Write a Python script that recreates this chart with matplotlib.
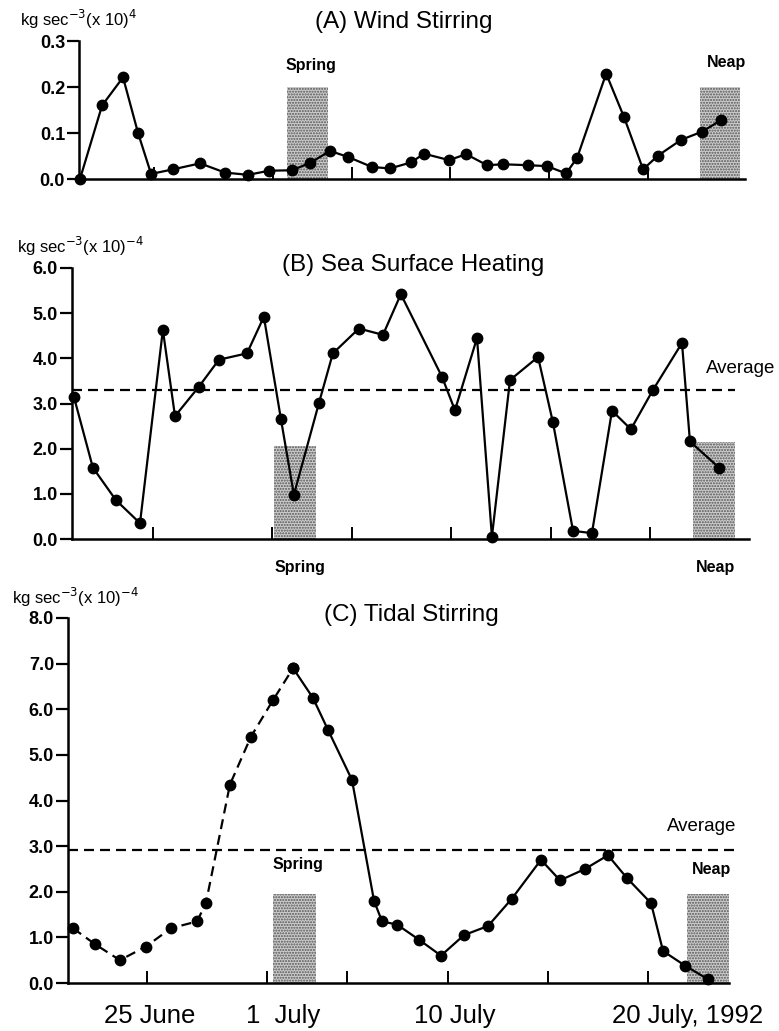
import numpy as np
import matplotlib
matplotlib.use('Agg')
import matplotlib.pyplot as plt
from matplotlib.patches import Rectangle

plt.rcParams['font.family'] = ['Liberation Sans', 'DejaVu Sans']
plt.rcParams['hatch.linewidth'] = 1.0

# days counted from 1 June 1992 (25 = 25 June, 31 = 1 July, 40 = 10 July ...)
wind_day = [21.25, 22.37, 23.43, 24.19, 24.85, 25.96, 27.33, 28.59, 29.76, 30.82,
            31.99, 32.90, 33.91, 34.82, 36.04, 36.95, 38.01, 38.67, 39.94, 40.80,
            41.86, 42.67, 43.94, 44.90, 45.86, 46.42, 47.89, 48.80, 49.76, 50.52,
            51.68, 52.75, 53.71]
wind = [0.0, 0.16, 0.221, 0.10, 0.011, 0.021, 0.034, 0.014, 0.009, 0.018,
        0.019, 0.035, 0.061, 0.048, 0.026, 0.023, 0.036, 0.055, 0.041, 0.054,
        0.030, 0.032, 0.030, 0.028, 0.012, 0.046, 0.229, 0.134, 0.021, 0.051,
        0.085, 0.103, 0.128]

heat_day = [21.03, 21.98, 23.14, 24.35, 25.50, 26.11, 27.31, 28.32, 29.73, 30.58,
            31.44, 32.09, 33.35, 34.05, 35.36, 36.57, 37.47, 39.54, 40.19, 41.30,
            42.05, 42.96, 44.37, 45.12, 46.13, 47.08, 48.09, 49.04, 50.15, 51.61,
            52.01, 53.47]
heat = [3.14, 1.58, 0.86, 0.35, 4.63, 2.72, 3.37, 3.97, 4.11, 4.92,
        2.65, 0.98, 3.01, 4.11, 4.66, 4.52, 5.42, 3.59, 2.85, 4.45,
        0.05, 3.52, 4.03, 2.58, 0.18, 0.13, 2.84, 2.43, 3.30, 4.34,
        2.16, 1.58]
heat_avg = 3.29

tide_day = [21.31, 22.41, 23.65, 24.95, 26.20, 27.50, 27.94, 29.14, 30.19, 31.29,
            32.29, 33.28, 34.03, 35.23, 36.33, 36.73, 37.48, 38.57, 39.67, 40.82,
            42.02, 43.21, 44.66, 45.61, 46.86, 48.00, 48.95, 50.15, 50.75, 51.85,
            53.00]
tide = [1.2, 0.85, 0.5, 0.8, 1.2, 1.35, 1.75, 4.35, 5.4, 6.2,
        6.9, 6.25, 5.55, 4.45, 1.8, 1.35, 1.28, 0.95, 0.6, 1.05,
        1.25, 1.85, 2.7, 2.25, 2.5, 2.8, 2.3, 1.75, 0.7, 0.38,
        0.08]
tide_avg = 2.92
n_dashed = 11  # tidal curve is dashed up to the spring peak

# spring / neap periods (start, end, box height) per panel
spring_a, neap_a = (31.73, 33.81, 0.2), (52.65, 54.67, 0.2)
spring_b, neap_b = (31.09, 33.20, 2.05), (52.16, 54.28, 2.14)
spring_c, neap_c = (31.29, 33.43, 1.95), (51.95, 54.04, 1.95)

date_ticks = [25, 31, 35, 40, 45, 50]
date_labels = ['25 June', '1  July', '10 July', '20 July, 1992']
date_label_x = [25.15, 31.79, 40.37, 51.99]

W, H = 779, 1031
fig = plt.figure(figsize=(W/100, H/100), dpi=100)


def make_axes(left, right, top, bottom):
    return fig.add_axes([left/W, 1 - bottom/H, (right-left)/W, (bottom-top)/H])


def style(ax, yticks, fmt):
    for s in ['top', 'right']:
        ax.spines[s].set_visible(False)
    for s in ['left', 'bottom']:
        ax.spines[s].set_linewidth(1.8)
    ax.set_yticks(yticks)
    ax.set_yticklabels([fmt % v for v in yticks], fontsize=13, fontweight='bold')
    ax.tick_params(axis='y', direction='out', length=9, width=1.6, pad=1)
    ax.set_xticks(date_ticks)
    ax.set_xticklabels([])
    ax.tick_params(axis='x', direction='in', length=9, width=1.4)


def box(ax, per):
    ax.add_patch(Rectangle((per[0], 0), per[1]-per[0], per[2], facecolor='#cccccc',
                           edgecolor='#555555', hatch='......', linewidth=0, zorder=1))


# (A) Wind Stirring
ax_a = make_axes(79, 745, 41, 179)
ax_a.set_xlim(21.20, 54.92)
ax_a.set_ylim(0, 0.3)
style(ax_a, [0.0, 0.1, 0.2, 0.3], '%.1f')
box(ax_a, spring_a)
box(ax_a, neap_a)
ax_a.plot(wind_day, wind, color='black', lw=1.6, marker='o', ms=7.5, clip_on=False, zorder=3)
ax_a.text(32.95, 0.246, 'Spring', ha='center', va='center', fontsize=11.5, fontweight='bold')
ax_a.text(54.0, 0.254, 'Neap', ha='center', va='center', fontsize=11.5, fontweight='bold')
fig.text(404/W, 1 - 22/H, '(A) Wind Stirring', ha='center', va='center', fontsize=17.5)
fig.text(20/W, 1 - 19/H, r'kg sec$^{-3}$(x 10)$^{4}$', ha='left', va='center', fontsize=12)

# (B) Sea Surface Heating
ax_b = make_axes(72, 749, 268, 539)
ax_b.set_xlim(20.93, 54.98)
ax_b.set_ylim(0, 6)
style(ax_b, [0, 1, 2, 3, 4, 5, 6], '%.1f')
box(ax_b, spring_b)
box(ax_b, neap_b)
ax_b.axhline(heat_avg, xmax=(54.3 - 20.93)/(54.98 - 20.93), color='black', lw=1.6,
             dashes=(4.5, 2.7))
ax_b.plot(heat_day, heat, color='black', lw=1.6, marker='o', ms=7.5, clip_on=False, zorder=3)
ax_b.text(32.39, -0.62, 'Spring', ha='center', va='center', fontsize=11.5, fontweight='bold')
ax_b.text(53.32, -0.62, 'Neap', ha='center', va='center', fontsize=11.5, fontweight='bold')
ax_b.text(54.58, 3.78, 'Average', ha='center', va='center', fontsize=13.5)
fig.text(413/W, 1 - 265/H, '(B) Sea Surface Heating', ha='center', va='center', fontsize=17.5)
fig.text(17/W, 1 - 246/H, r'kg sec$^{-3}$(x 10)$^{-4}$', ha='left', va='center', fontsize=12)

# (C) Tidal Stirring
ax_c = make_axes(68, 737, 618, 983)
ax_c.set_xlim(21.06, 54.44)
ax_c.set_ylim(0, 8)
style(ax_c, [0, 1, 2, 3, 4, 5, 6, 7, 8], '%.1f')
ax_c.spines['bottom'].set_bounds(21.06, 54.04)
box(ax_c, spring_c)
box(ax_c, neap_c)
ax_c.axhline(tide_avg, color='black', lw=1.6, dashes=(4.5, 2.7))
ax_c.plot(tide_day[:n_dashed], tide[:n_dashed], color='black', lw=1.6, dashes=(4.5, 2.7),
          marker='o', ms=7.5, clip_on=False, zorder=3)
ax_c.plot(tide_day[n_dashed-1:], tide[n_dashed-1:], color='black', lw=1.6,
          marker='o', ms=7.5, clip_on=False, zorder=3)
ax_c.text(32.53, 2.59, 'Spring', ha='center', va='center', fontsize=11.5, fontweight='bold')
ax_c.text(53.19, 2.48, 'Neap', ha='center', va='center', fontsize=11.5, fontweight='bold')
ax_c.text(52.69, 3.42, 'Average', ha='center', va='center', fontsize=13.5)
for x, lab in zip(date_label_x, date_labels):
    ax_c.text(x, -0.72, lab, ha='center', va='center', fontsize=18.5)
fig.text(411/W, 1 - 615/H, '(C) Tidal Stirring', ha='center', va='center', fontsize=17.5)
fig.text(12/W, 1 - 597/H, r'kg sec$^{-3}$(x 10)$^{-4}$', ha='left', va='center', fontsize=12)

fig.savefig('out.png', dpi=100, facecolor='white')
